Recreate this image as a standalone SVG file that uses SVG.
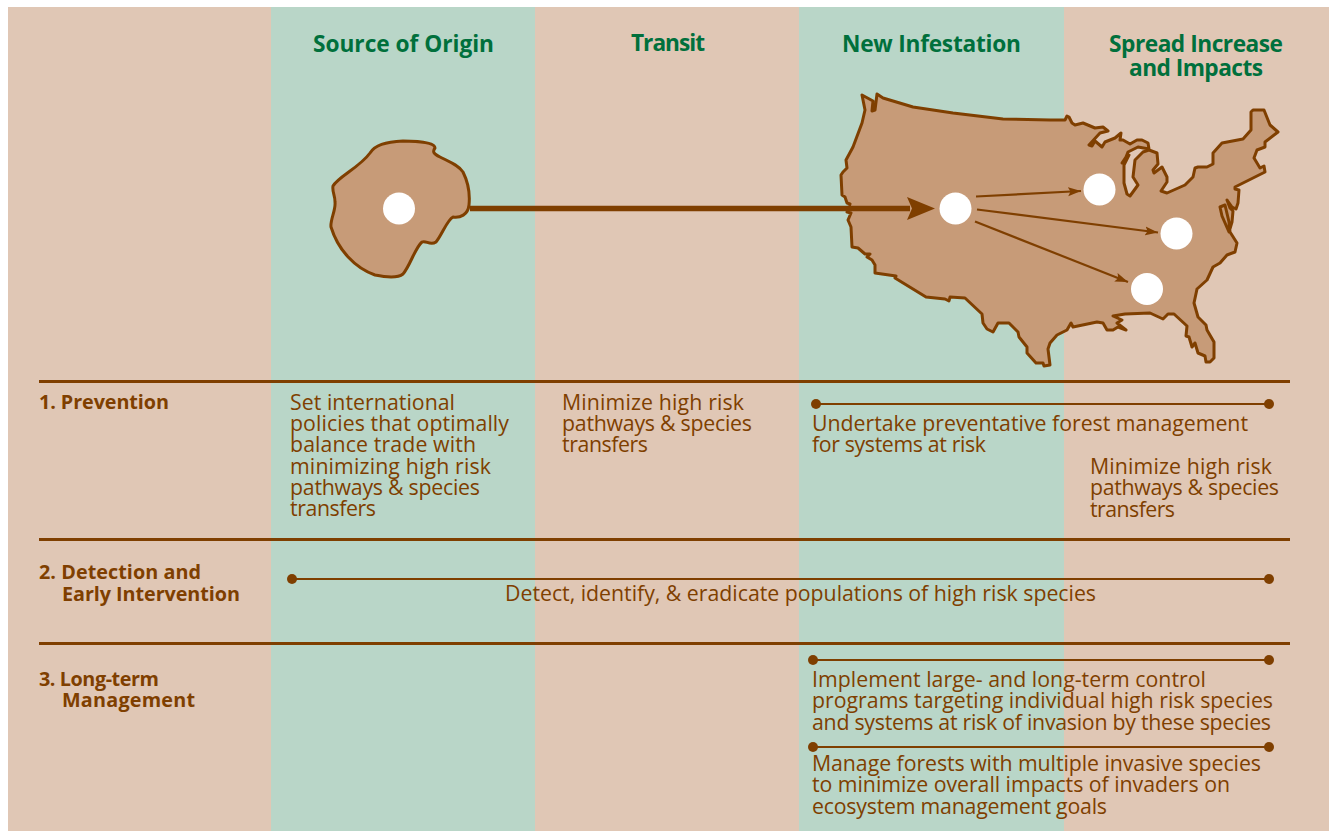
<svg xmlns="http://www.w3.org/2000/svg" width="1329" height="831" viewBox="0 0 1329 831">
<style>
text{font-family:"Open Sans","Noto Sans","Liberation Sans",sans-serif;fill:#7f3f00;font-size:21.3px}
.h{fill:#00703c;font-weight:700;font-size:22.7px;text-anchor:middle}
.b{font-weight:700;font-size:19.8px}
.rule{stroke:#7f3f00;stroke-width:2.8;fill:none}
.bar{stroke:#7f3f00;stroke-width:2;fill:none}
.dot{fill:#7f3f00}
.shape{fill:#c79b78;stroke:#7f3f00;stroke-width:3;stroke-linejoin:round}
.spot{fill:#fff}
.arr{stroke:#7f3f00;stroke-width:2.2;fill:none;marker-end:url(#ah)}
</style>
<defs>
<marker id="ah" markerUnits="userSpaceOnUse" markerWidth="14" markerHeight="10" refX="13" refY="4.500" orient="auto"><path d="M0 0L13 4.500L0 9L2.500 4.500Z" fill="#7f3f00"/></marker>
</defs>
<rect width="1329" height="831" fill="#fff"/>
<g id="bands">
<rect x="8" y="7" width="1321" height="824" fill="#e0c7b5"/>
<rect x="271" y="7" width="264" height="824" fill="#b9d6c8"/>
<rect x="799" y="7" width="265" height="824" fill="#b9d6c8"/>
</g>
<g id="headings">
<text class="h" x="403.500" y="52" textLength="181">Source of Origin</text>
<text class="h" x="668" y="51" textLength="74">Transit</text>
<text class="h" x="931.500" y="52" textLength="179">New Infestation</text>
<text class="h" x="1196" y="52" textLength="174">Spread Increase</text>
<text class="h" x="1196" y="76" textLength="134">and Impacts</text>
</g>
<g id="origin">
<path class="shape" d="M370 153C375 145 385 142 403 141C420 141 435 143 435 148C432 152 434 154 440 157C450 162 458 165 463 172C468 182 470 195 469 205C468 215 460 218 453 217C447 220 442 235 436 242C430 246 426 240 422 242C415 248 410 266 403 274C398 278 385 277 375 275C355 268 338 250 331 227C330 220 336 210 335 202C335 195 332 192 333 186C338 177 360 167 370 153Z"/>
<circle class="spot" cx="399" cy="208.500" r="16"/>
</g>
<g id="usa">
<path class="shape" d="M862 95L873 101L872 111L875 110L877 94L883 98L913 107L953 113L1003 119L1050 120L1065 120L1067 116L1069 117L1072 123L1075 125L1083 123L1095 128L1103 127L1108 131L1100 133L1089 145L1092 146L1095 141L1102 147L1105 142L1115 138L1121 133L1120 140L1123 140L1130 144L1137 140L1142 140L1148 143L1149 149L1138 147L1128 152L1126 157L1122 163L1129 155L1124 165L1124 183L1127 194L1130 196L1138 185L1133 177L1135 160L1143 152L1149 150L1157 153L1158 164L1153 170L1154 173L1162 167L1167 177L1167 182L1161 191L1167 193L1185 185L1193 177L1195 168L1198 167L1207 167L1213 164L1213 153L1222 143L1243 139L1251 130L1251 112L1253 110L1264 110L1270 125L1278 132L1265 142L1265 147L1257 150L1254 158L1260 168L1264 166L1265 172L1235 187L1235 189L1239 190L1238 203L1236 209L1232 207L1227 200L1230 208L1233 211L1232 222L1229 232L1222 216L1220 207L1225 205L1229 222L1230 232L1237 243L1235 252L1227 255L1220 263L1213 267L1207 280L1197 289L1194 303L1198 317L1206 325L1207 330L1214 342L1214 358L1210 362L1206 362L1205 356L1198 353L1195 343L1192 347L1189 337L1186 336L1187 326L1174 314L1168 314L1163 319L1150 313L1125 314L1113 316L1122 320L1117 323L1126 330L1118 327L1113 330L1107 330L1103 323L1097 322L1073 327L1071 323L1067 330L1057 335L1050 343L1048 349L1050 365L1044 366L1043 363L1036 363L1027 353L1027 347L1019 337L1018 332L1009 323L998 323L993 332L987 329L983 323L982 314L965 298L950 297L949 301L945 299L926 297L895 278L896 276L875 273L875 265L872 260L867 257L870 254L865 254L858 248L852 247L851 227L848 220L851 213L847 212L850 204L847 203L845 197L842 195L841 175L843 172L847 168L846 160L853 147L862 123L865 110Z"/>
<circle class="spot" cx="955.500" cy="208.500" r="16"/>
<circle class="spot" cx="1099.500" cy="189.500" r="16"/>
<circle class="spot" cx="1176.500" cy="233.500" r="16"/>
<circle class="spot" cx="1147" cy="289" r="16"/>
</g>
<g id="connectors">
<path d="M470 208.500H910" stroke="#7f3f00" stroke-width="5.500" fill="none"/>
<path d="M907 197L935 208.500L907 220L912 208.500Z" fill="#7f3f00"/>
<path class="arr" d="M976 196.500L1081 191"/>
<path class="arr" d="M977 209.500L1158 232.500"/>
<path class="arr" d="M975 221.500L1128 282"/>
</g>
<g id="rules">
<path class="rule" d="M39 381.500H1290M39 539.500H1290M39 643.500H1290"/>
<path class="bar" d="M816 404H1269M292 579H1269M813 660H1269M813 747H1269"/>
<circle class="dot" cx="816" cy="404" r="5"/><circle class="dot" cx="1269" cy="404" r="5"/>
<circle class="dot" cx="292" cy="579" r="5"/><circle class="dot" cx="1269" cy="579" r="5"/>
<circle class="dot" cx="813" cy="660" r="5"/><circle class="dot" cx="1269" cy="660" r="5"/>
<circle class="dot" cx="813" cy="747" r="5"/><circle class="dot" cx="1269" cy="747" r="5"/>
</g>
<g id="row-labels">
<text class="b" x="39" y="409" textLength="130">1. Prevention</text>
<text class="b" x="39" y="579" textLength="162">2. Detection and</text>
<text class="b" x="62" y="601" textLength="178">Early Intervention</text>
<text class="b" x="39" y="686" textLength="120">3. Long-term</text>
<text class="b" x="62" y="707" textLength="133">Management</text>
</g>
<g id="cells">
<text x="290" y="409.500" textLength="165">Set international</text>
<text x="290" y="430.500" textLength="219">policies that optimally</text>
<text x="290" y="451.500" textLength="186">balance trade with</text>
<text x="290" y="473.500" textLength="201">minimizing high risk</text>
<text x="290" y="494.500" textLength="190">pathways &amp; species</text>
<text x="290" y="515.500" textLength="86">transfers</text>
<text x="562" y="409.500" textLength="182">Minimize high risk</text>
<text x="562" y="430.500" textLength="190">pathways &amp; species</text>
<text x="562" y="451.500" textLength="86">transfers</text>
<text x="812" y="430.500" textLength="436">Undertake preventative forest management</text>
<text x="812" y="451.500" textLength="174">for systems at risk</text>
<text x="1090" y="473.500" textLength="182">Minimize high risk</text>
<text x="1090" y="494.500" textLength="189">pathways &amp; species</text>
<text x="1090" y="516.500" textLength="85">transfers</text>
<text x="505" y="600.500" textLength="591">Detect, identify, &amp; eradicate populations of high risk species</text>
<text x="812" y="686.500" textLength="394">Implement large- and long-term control</text>
<text x="812" y="707.500" textLength="461">programs targeting individual high risk species</text>
<text x="812" y="729.500" textLength="459">and systems at risk of invasion by these species</text>
<text x="812" y="770.500" textLength="449">Manage forests with multiple invasive species</text>
<text x="812" y="791.500" textLength="418">to minimize overall impacts of invaders on</text>
<text x="812" y="813.500" textLength="295">ecosystem management goals</text>
</g>
</svg>
